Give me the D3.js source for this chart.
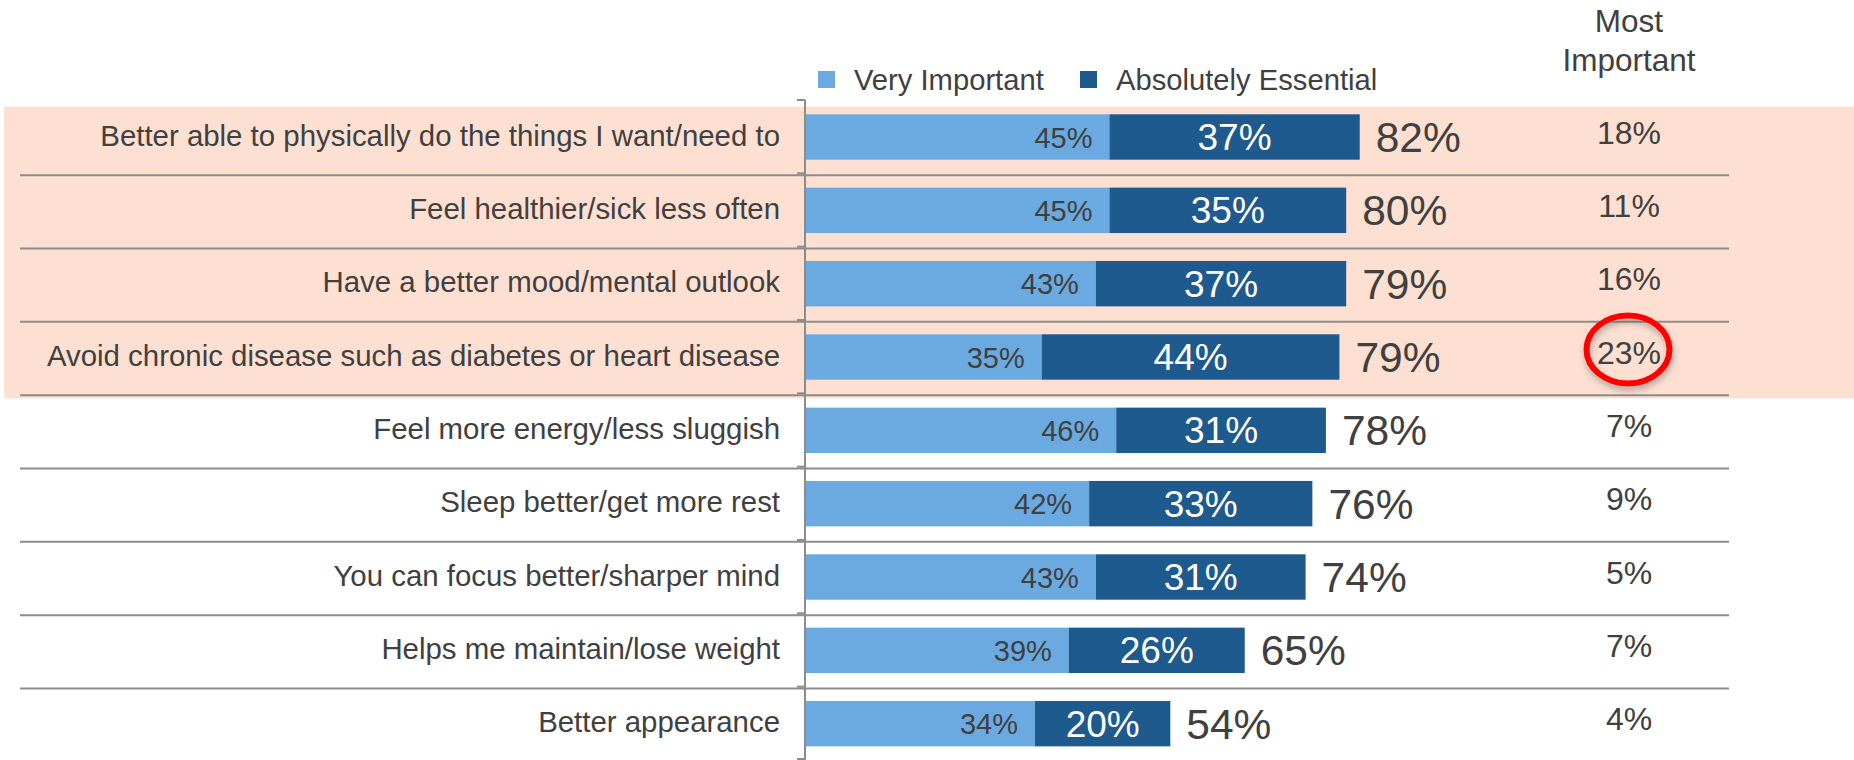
<!DOCTYPE html>
<html>
<head>
<meta charset="utf-8">
<script src="https://cdn.jsdelivr.net/npm/d3@7"></script>
<style>
  body { margin: 0; background: #fff; }
  svg text { font-family: "Liberation Sans", Arial, sans-serif; fill: #404040; }
</style>
</head>
<body>
<svg id="chart" width="1854" height="760"></svg>
<script>
const categories = [
  'Better able to physically do the things I want/need to',
  'Feel healthier/sick less often',
  'Have a better mood/mental outlook',
  'Avoid chronic disease such as diabetes or heart disease',
  'Feel more energy/less sluggish',
  'Sleep better/get more rest',
  'You can focus better/sharper mind',
  'Helps me maintain/lose weight',
  'Better appearance'
]
const veryImportant = [45, 45, 43, 35, 46, 42, 43, 39, 34]
const absolutelyEssential = [37, 35, 37, 44, 31, 33, 31, 26, 20]
const totals = [82, 80, 79, 79, 78, 76, 74, 65, 54]
const mostImportant = [18, 11, 16, 23, 7, 9, 5, 7, 4]
const seriesNames = ['Very Important', 'Absolutely Essential']
const highlighted = categories.slice(0, 4)
const circled = 'Avoid chronic disease such as diabetes or heart disease'

const width = 1854
const colors = ['#6aaae1', '#1e5a8e']
const gridColor = '#8c8c8c'

const svg = d3.select('#chart')

const y = d3.scaleBand().domain(categories).range([100, 760]).padding(0)
const x = d3.scaleLinear().domain([0, 100]).range([805, 1481.5])
const bw = y.bandwidth()
const barOff = 14.3
const barH = 45.4
const barMid = d => y(d) + barOff + barH / 2
const colX = 1629

const rows = categories.map((c, i) => ({
  cat: c, v1: veryImportant[i], v2: absolutelyEssential[i], total: totals[i], most: mostImportant[i]
}))

// highlight band
const hl = highlighted.map(c => y(c))
svg.append('rect')
  .attr('x', 4)
  .attr('y', d3.min(hl) + 6.7)
  .attr('width', width - 4)
  .attr('height', d3.max(hl) + bw + 5 - (d3.min(hl) + 6.7))
  .attr('fill', '#fde0d2')

// row separators
svg.append('g').selectAll('line')
  .data(categories.slice(1))
  .join('line')
  .attr('x1', 20).attr('x2', 1729)
  .attr('y1', d => y(d) + 1.8).attr('y2', d => y(d) + 1.8)
  .attr('stroke', gridColor).attr('stroke-width', 2)

// bars
const stack = d3.stack().keys(['v1', 'v2'])(rows)
svg.append('g').selectAll('g')
  .data(stack)
  .join('g')
  .attr('fill', (d, i) => colors[i])
  .selectAll('rect')
  .data(d => d)
  .join('rect')
  .attr('x', d => x(d[0]))
  .attr('width', d => x(d[1]) - x(d[0]))
  .attr('y', d => y(d.data.cat) + barOff)
  .attr('height', barH)

// axis line with boundary ticks
const axisG = svg.append('g')
axisG.append('line')
  .attr('x1', x(0)).attr('x2', x(0))
  .attr('y1', y.range()[0]).attr('y2', y.range()[1])
  .attr('stroke', gridColor).attr('stroke-width', 2)
axisG.selectAll('.tick')
  .data(d3.range(categories.length + 1))
  .join('line')
  .attr('class', 'tick')
  .attr('x1', x(0) - 8).attr('x2', x(0))
  .attr('y1', i => Math.min(y.range()[0] + i * bw, 759))
  .attr('y2', i => Math.min(y.range()[0] + i * bw, 759))
  .attr('stroke', gridColor).attr('stroke-width', 2)

// category labels
svg.append('g').selectAll('text')
  .data(categories)
  .join('text')
  .attr('x', 780)
  .attr('y', d => barMid(d) + 8.5)
  .attr('text-anchor', 'end')
  .style('font-size', '29.4px')
  .text(d => d)

// light segment labels
svg.append('g').selectAll('text')
  .data(rows)
  .join('text')
  .attr('x', d => x(d.v1) - 17)
  .attr('y', d => barMid(d.cat) + 10.5)
  .attr('text-anchor', 'end')
  .style('font-size', '29px')
  .text(d => d.v1 + '%')

// dark segment labels
svg.append('g').selectAll('text')
  .data(rows)
  .join('text')
  .attr('x', d => x(d.v1 + d.v2 / 2))
  .attr('y', d => barMid(d.cat) + 13)
  .attr('text-anchor', 'middle')
  .style('font-size', '37px')
  .style('fill', '#fff')
  .text(d => d.v2 + '%')

// totals
svg.append('g').selectAll('text')
  .data(rows)
  .join('text')
  .attr('x', d => x(d.v1 + d.v2) + 16)
  .attr('y', d => barMid(d.cat) + 15)
  .attr('text-anchor', 'start')
  .style('font-size', '42.5px')
  .text(d => d.total + '%')

// most important column
svg.append('g').selectAll('text')
  .data(rows)
  .join('text')
  .attr('x', colX)
  .attr('y', d => y(d.cat) + 43.5)
  .attr('text-anchor', 'middle')
  .style('font-size', '32px')
  .text(d => d.most + '%')

svg.append('text')
  .attr('x', colX).attr('y', 32)
  .attr('text-anchor', 'middle')
  .style('font-size', '31.5px')
  .text('Most')
svg.append('text')
  .attr('x', colX).attr('y', 71)
  .attr('text-anchor', 'middle')
  .style('font-size', '31.5px')
  .text('Important')

// legend
const legendX = [818, 1080]
const legend = svg.append('g').selectAll('g')
  .data(seriesNames)
  .join('g')
  .attr('transform', (d, i) => `translate(${legendX[i]},71)`)
legend.append('rect')
  .attr('width', 17).attr('height', 17)
  .attr('fill', (d, i) => colors[i])
legend.append('text')
  .attr('x', 36).attr('y', 19)
  .style('font-size', '29.2px')
  .text(d => d)

// red circle around the top "most important" value
const defs = svg.append('defs')
const f = defs.append('filter').attr('id', 'shadow')
  .attr('x', '-30%').attr('y', '-30%').attr('width', '160%').attr('height', '170%')
f.append('feDropShadow')
  .attr('dx', 1).attr('dy', 4).attr('stdDeviation', 3)
  .attr('flood-color', '#555').attr('flood-opacity', 0.45)

svg.append('ellipse')
  .attr('cx', colX - 1)
  .attr('cy', y(circled) + 29.5)
  .attr('rx', 41.5).attr('ry', 34)
  .attr('fill', 'none')
  .attr('stroke', '#ff0000')
  .attr('stroke-width', 6)
  .attr('filter', 'url(#shadow)')
</script>
</body>
</html>
